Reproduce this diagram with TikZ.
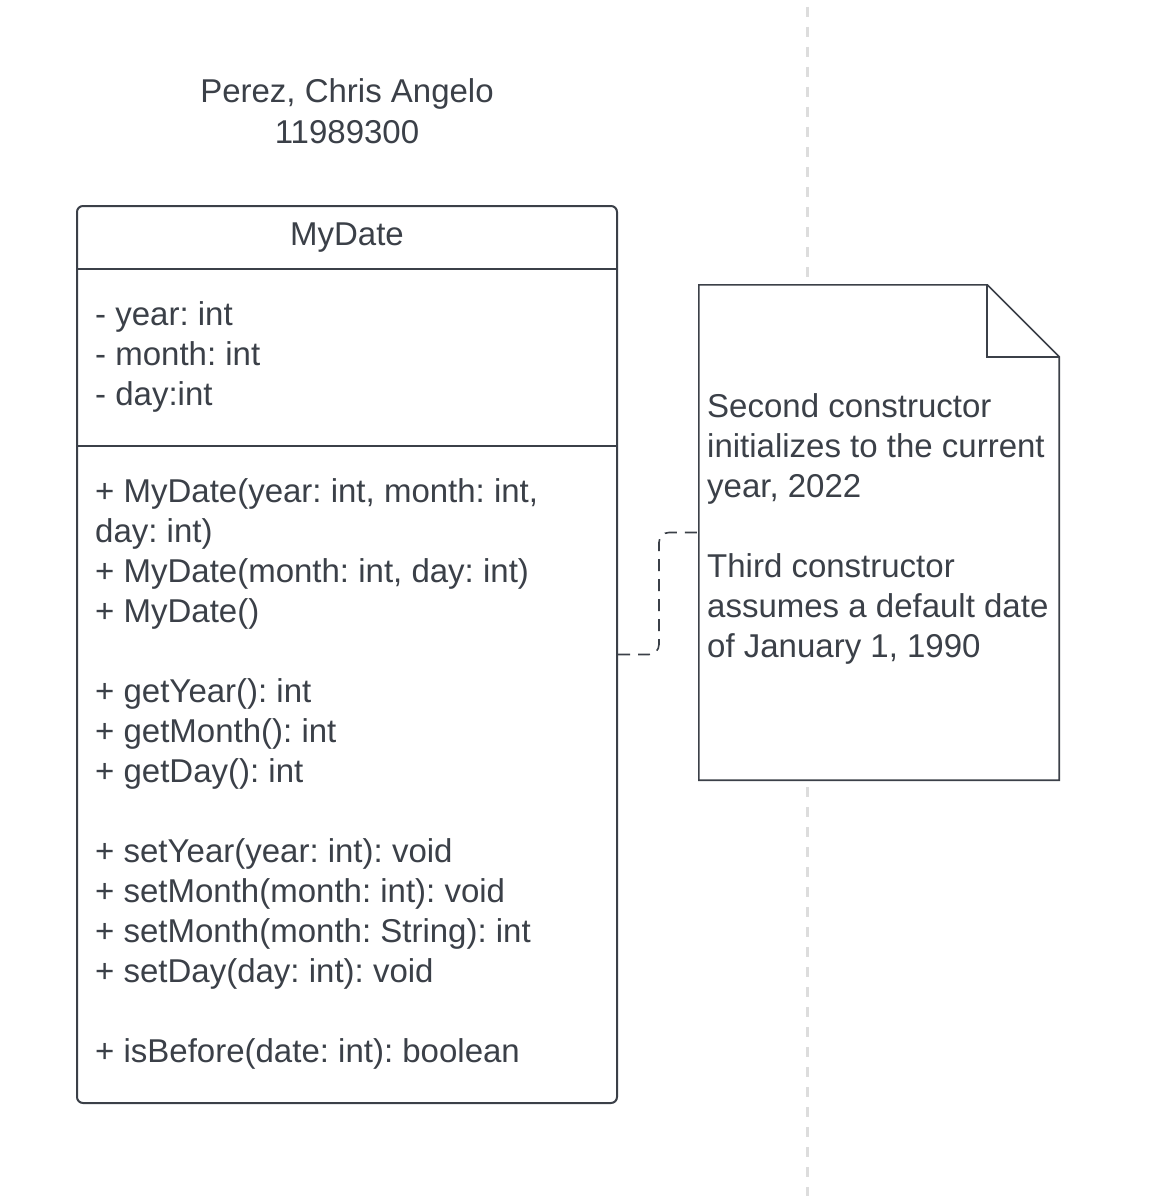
\documentclass[tikz,border=0pt]{standalone}
\usepackage{fontspec}
\setmainfont{Liberation Sans}
\definecolor{ink}{HTML}{3B4048}
\definecolor{guidegray}{HTML}{DDDDDD}
\begin{document}
\frenchspacing
\begin{tikzpicture}[x=1pt,y=-1pt,
  txt/.style={font=\fontsize{33}{40}\selectfont, text=ink, inner sep=0pt},
  lft/.style={txt, anchor=base west},
  ctr/.style={txt, anchor=base},
  guide/.style={draw=guidegray, line width=3pt, dash pattern=on 10pt off 10pt},
  classbox/.style={draw=ink, line width=2pt, rounded corners=6pt, fill=white,
    minimum width=540pt, minimum height=897pt, inner sep=0pt},
  divider/.style={draw=ink, line width=2pt},
  notebox/.style={fill=white, minimum width=360pt, minimum height=495pt, inner sep=0pt},
  noteline/.style={draw=ink, line width=1.6pt, line join=miter},
  conn/.style={draw=ink, line width=1.6pt, rounded corners=10pt, dash pattern=on 12pt off 8pt}
]
\path[use as bounding box] (0,0) rectangle (1158,1196);

% background guide line
\coordinate (gtop) at (807,7);
\coordinate (gbot) at (807,1196);
\draw[guide] (gtop) -- (gbot);

% title
\node[ctr] (t1) at (347,103) {Perez, Chris Angelo};
\node[ctr] (t2) at (347,143) {11989300};

% class box
\node[classbox] (cls) at (347,654.5) {};
\coordinate (d1) at (0,269);
\coordinate (d2) at (0,446);
\draw[divider] (cls.west |- d1) -- (cls.east |- d1);
\draw[divider] (cls.west |- d2) -- (cls.east |- d2);

\node[ctr] (cname) at (347,245) {MyDate};

\node[lft] (a1) at (95,325) {- year: int};
\node[lft] (a2) at (95,365) {- month: int};
\node[lft] (a3) at (95,405) {- day:int};

\node[lft] (m1) at (95,502) {+ MyDate(year: int, month: int,};
\node[lft] (m2) at (95,542) {day: int)};
\node[lft] (m3) at (95,582) {+ MyDate(month: int, day: int)};
\node[lft] (m4) at (95,622) {+ MyDate()};
\node[lft] (m5) at (95,702) {+ getYear(): int};
\node[lft] (m6) at (95,742) {+ getMonth(): int};
\node[lft] (m7) at (95,782) {+ getDay(): int};
\node[lft] (m8) at (95,862) {+ setYear(year: int): void};
\node[lft] (m9) at (95,902) {+ setMonth(month: int): void};
\node[lft] (m10) at (95,942) {+ setMonth(month: String): int};
\node[lft] (m11) at (95,982) {+ setDay(day: int): void};
\node[lft] (m12) at (95,1062) {+ isBefore(date: int): boolean};

% note
\node[notebox] (note) at (879,532.5) {};
\draw[noteline] (note.north west) -- ([xshift=-72pt]note.north east)
  -- ([yshift=-72pt]note.north east) -- (note.south east) -- (note.south west) -- cycle;
\draw[noteline] ([xshift=-72pt]note.north east) |- ([yshift=-72pt]note.north east);

\node[lft] (n1) at (707,417) {Second constructor};
\node[lft] (n2) at (707,457) {initializes to the current};
\node[lft] (n3) at (707,497) {year, 2022};
\node[lft] (n4) at (707,577) {Third constructor};
\node[lft] (n5) at (707,617) {assumes a default date};
\node[lft] (n6) at (707,657) {of January 1, 1990};

% connector
\draw[conn] (cls.east) -- ++(41,0) |- (note.west);
\end{tikzpicture}
\end{document}
